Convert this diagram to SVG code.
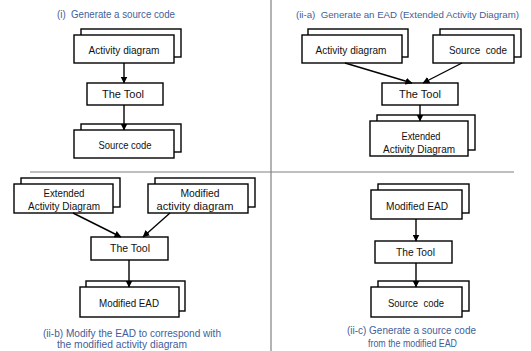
<svg xmlns="http://www.w3.org/2000/svg" width="531" height="351" viewBox="0 0 531 351">
<defs>
<marker id="ah" markerWidth="7" markerHeight="7" refX="6.5" refY="3.5" orient="auto" markerUnits="userSpaceOnUse">
<path d="M0,0 L7,3.5 L0,7 z" fill="#000"/>
</marker>
</defs>
<style>
.bx{fill:#fff;stroke:#000;stroke-width:1.4}
.t{font-family:"Liberation Sans",Arial,sans-serif;font-size:11.5px;fill:#111;text-anchor:middle}
.cap{font-family:"Liberation Sans",Arial,sans-serif;font-size:10.5px;fill:#41609a}
.div{stroke:#808080;stroke-width:1.2;fill:none}
.cn{stroke:#000;stroke-width:1.4;fill:none;marker-end:url(#ah)}
</style>
<rect width="531" height="351" fill="#fff"/>
<g id="dividers">
<line class="div" x1="271" y1="0" x2="271" y2="351"/>
<line class="div" x1="30" y1="172" x2="514" y2="172"/>
</g>
<g id="captions">
<text class="cap" x="57" y="18" textLength="118" lengthAdjust="spacingAndGlyphs" xml:space="preserve">(i)  Generate a source code</text>
<text class="cap" x="296" y="18" style="font-size:9.8px" textLength="223" lengthAdjust="spacingAndGlyphs" xml:space="preserve">(ii-a)  Generate an EAD (Extended Activity Diagram)</text>
<text class="cap" x="43" y="337" textLength="178" lengthAdjust="spacingAndGlyphs">(ii-b) Modify the EAD to correspond with</text>
<text class="cap" x="57" y="348" textLength="130" lengthAdjust="spacingAndGlyphs">the modified activity diagram</text>
<text class="cap" x="347" y="334" textLength="129" lengthAdjust="spacingAndGlyphs">(ii-c) Generate a source code</text>
<text class="cap" x="368" y="346.5" textLength="89" lengthAdjust="spacingAndGlyphs">from the modified EAD</text>
</g>
<g id="i-activity">
<rect class="bx" x="81" y="29" width="100" height="28"/>
<rect class="bx" x="74" y="35" width="100" height="28"/>
<text class="t" x="124" y="53.5" textLength="71" lengthAdjust="spacingAndGlyphs">Activity diagram</text>
</g>
<g id="i-tool">
<rect class="bx" x="87" y="83" width="76" height="22"/>
<text class="t" x="123" y="98" textLength="42" lengthAdjust="spacingAndGlyphs">The Tool</text>
</g>
<g id="i-source">
<rect class="bx" x="81" y="124" width="100" height="28"/>
<rect class="bx" x="74" y="130" width="100" height="28"/>
<text class="t" x="125" y="148.5" textLength="53" lengthAdjust="spacingAndGlyphs">Source code</text>
</g>
<g id="iia-activity">
<rect class="bx" x="308" y="29" width="100" height="28"/>
<rect class="bx" x="302" y="35" width="100" height="28"/>
<text class="t" x="351" y="53.5" textLength="71" lengthAdjust="spacingAndGlyphs">Activity diagram</text>
</g>
<g id="iia-source">
<rect class="bx" x="440" y="29" width="81" height="28"/>
<rect class="bx" x="433" y="35" width="81" height="28"/>
<text class="t" x="478" y="53.5" textLength="58" lengthAdjust="spacingAndGlyphs" xml:space="preserve">Source  code</text>
</g>
<g id="iia-tool">
<rect class="bx" x="382" y="83" width="76" height="22"/>
<text class="t" x="420" y="98" textLength="42" lengthAdjust="spacingAndGlyphs">The Tool</text>
</g>
<g id="iia-ead">
<rect class="bx" x="377" y="115" width="98" height="35"/>
<rect class="bx" x="370" y="121" width="98" height="35"/>
<text class="t" x="421" y="140" textLength="39" lengthAdjust="spacingAndGlyphs">Extended</text>
<text class="t" x="419" y="153" textLength="72" lengthAdjust="spacingAndGlyphs">Activity Diagram</text>
</g>
<g id="iib-ead">
<rect class="bx" x="21" y="178" width="99" height="29"/>
<rect class="bx" x="14" y="184" width="99" height="29"/>
<text class="t" x="64" y="196.5" textLength="41" lengthAdjust="spacingAndGlyphs">Extended</text>
<text class="t" x="64" y="209.5" textLength="72" lengthAdjust="spacingAndGlyphs">Activity Diagram</text>
</g>
<g id="iib-modified-activity">
<rect class="bx" x="155" y="178" width="100" height="29"/>
<rect class="bx" x="148" y="184" width="100" height="29"/>
<text class="t" x="200" y="196.5" textLength="39" lengthAdjust="spacingAndGlyphs">Modified</text>
<text class="t" x="195" y="209.5" textLength="77" lengthAdjust="spacingAndGlyphs">activity diagram</text>
</g>
<g id="iib-tool">
<rect class="bx" x="91" y="237" width="77" height="23"/>
<text class="t" x="130" y="252" textLength="40" lengthAdjust="spacingAndGlyphs">The Tool</text>
</g>
<g id="iib-modified-ead">
<rect class="bx" x="86" y="281" width="99" height="30"/>
<rect class="bx" x="80" y="287" width="99" height="30"/>
<text class="t" x="129" y="306.5" textLength="60" lengthAdjust="spacingAndGlyphs">Modified EAD</text>
</g>
<g id="iic-modified-ead">
<rect class="bx" x="378" y="184" width="91" height="29"/>
<rect class="bx" x="371" y="190" width="91" height="29"/>
<text class="t" x="417" y="209.5" textLength="62" lengthAdjust="spacingAndGlyphs">Modified EAD</text>
</g>
<g id="iic-tool">
<rect class="bx" x="375" y="241" width="77" height="22"/>
<text class="t" x="415.5" y="256" textLength="39" lengthAdjust="spacingAndGlyphs">The Tool</text>
</g>
<g id="iic-source">
<rect class="bx" x="378" y="281" width="91" height="30"/>
<rect class="bx" x="371" y="287" width="91" height="30"/>
<text class="t" x="416" y="306.5" textLength="56" lengthAdjust="spacingAndGlyphs" xml:space="preserve">Source  code</text>
</g>
<g id="connectors">
<line class="cn" x1="124" y1="63" x2="124" y2="83"/>
<line class="cn" x1="124" y1="105" x2="124" y2="130"/>
<line class="cn" x1="345" y1="63" x2="412" y2="83"/>
<line class="cn" x1="462" y1="63" x2="423" y2="83"/>
<line class="cn" x1="420" y1="105" x2="420" y2="121"/>
<line class="cn" x1="73" y1="213" x2="121" y2="237"/>
<line class="cn" x1="170" y1="213" x2="143" y2="237"/>
<line class="cn" x1="129" y1="260" x2="129" y2="287"/>
<line class="cn" x1="416" y1="219" x2="416" y2="241"/>
<line class="cn" x1="416" y1="263" x2="416" y2="287"/>
</g>
</svg>
